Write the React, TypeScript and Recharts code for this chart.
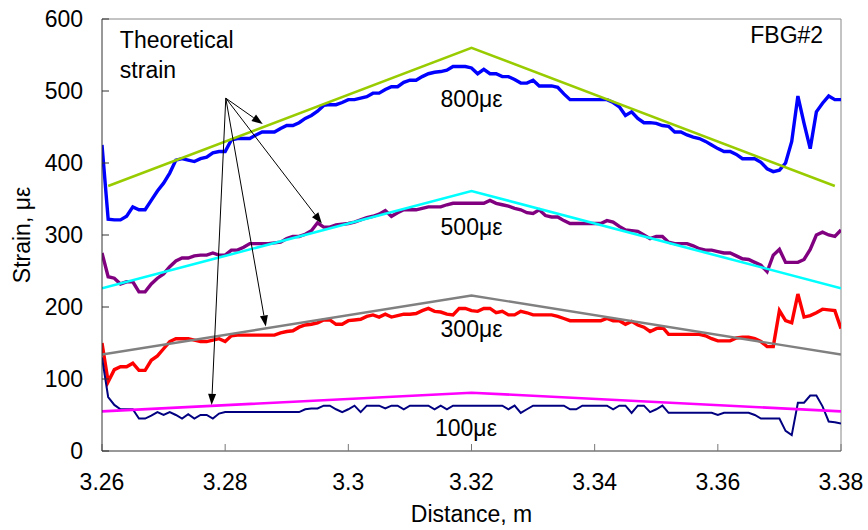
import React from 'react'
import {
  LineChart, Line, XAxis, YAxis, ReferenceLine, ReferenceDot, Label,
} from 'recharts'

const FONT = '"Liberation Sans", Arial, sans-serif'

// sample positions along the fibre, m (0.001 m steps)
const distance = Array.from({ length: 121 }, (_, i) => +(3.26 + i * 0.001).toFixed(3))

// measured strain, με
const measured800 = [
  425, 322, 321, 321, 326, 339, 335, 335, 348, 361,
  372, 386, 404, 406, 404, 402, 406, 408, 414, 416,
  416, 432, 434, 434, 434, 439, 443, 443, 443, 448,
  452, 452, 456, 462, 466, 472, 480, 481, 481, 484,
  488, 488, 490, 492, 497, 497, 502, 506, 506, 512,
  515, 515, 520, 524, 526, 527, 529, 534, 534, 534,
  532, 524, 530, 524, 524, 520, 520, 516, 511, 511,
  515, 507, 507, 507, 505, 496, 488, 488, 488, 488,
  488, 488, 488, 484, 478, 466, 471, 462, 456, 456,
  455, 452, 451, 443, 443, 439, 436, 434, 430, 425,
  420, 416, 416, 412, 406, 406, 406, 401, 392, 388,
  390, 400, 430, 493, 455, 420, 471, 483, 493, 488,
  488,
]
const measured500 = [
  275, 242, 240, 232, 235, 235, 221, 221, 232, 240,
  246, 256, 264, 268, 268, 271, 272, 272, 275, 272,
  272, 279, 279, 283, 288, 288, 288, 288, 289, 290,
  295, 298, 298, 301, 306, 317, 311, 311, 314, 315,
  316, 318, 321, 324, 326, 329, 334, 326, 331, 335,
  335, 335, 337, 339, 339, 339, 342, 344, 344, 344,
  344, 344, 344, 348, 344, 342, 340, 337, 335, 331,
  330, 335, 327, 325, 325, 320, 316, 316, 316, 316,
  316, 316, 320, 318, 312, 307, 306, 305, 300, 295,
  298, 298, 290, 288, 288, 288, 285, 281, 279, 279,
  277, 275, 275, 271, 267, 266, 262, 258, 249, 272,
  280, 262, 262, 262, 266, 280, 300, 304, 300, 298,
  307,
]
const measured300 = [
  150, 96, 113, 117, 117, 122, 112, 112, 126, 132,
  142, 152, 156, 156, 156, 154, 152, 152, 154, 156,
  152, 160, 161, 161, 161, 161, 161, 161, 161, 164,
  166, 167, 172, 175, 176, 178, 182, 182, 176, 176,
  181, 182, 183, 187, 189, 186, 190, 186, 188, 190,
  190, 191, 195, 198, 194, 193, 190, 189, 198, 198,
  195, 194, 198, 198, 192, 194, 189, 189, 194, 192,
  189, 189, 189, 189, 187, 184, 181, 181, 181, 181,
  181, 181, 184, 181, 181, 176, 180, 175, 172, 166,
  170, 172, 162, 162, 162, 162, 162, 162, 160, 156,
  153, 153, 153, 157, 158, 158, 156, 152, 145, 145,
  195, 181, 178, 218, 186, 188, 192, 197, 196, 195,
  170,
]
const measured100 = [
  130, 75, 64, 58, 58, 58, 45, 45, 49, 54,
  50, 54, 50, 45, 51, 45, 50, 50, 45, 52,
  54, 54, 54, 54, 54, 54, 54, 54, 54, 54,
  54, 54, 54, 58, 59, 59, 63, 63, 58, 54,
  58, 63, 54, 63, 63, 63, 59, 63, 63, 58,
  63, 63, 63, 63, 58, 63, 58, 63, 63, 63,
  63, 63, 63, 63, 63, 63, 58, 63, 53, 58,
  63, 63, 63, 63, 63, 63, 58, 58, 63, 63,
  63, 63, 63, 58, 63, 63, 53, 63, 63, 54,
  58, 63, 53, 53, 53, 53, 53, 53, 53, 53,
  50, 53, 53, 53, 53, 53, 50, 45, 45, 45,
  45, 28, 22, 67, 67, 77, 77, 62, 41, 40,
  38,
]

// theoretical strain: ends and peak
const theoryX = [3.26, 3.32, 3.38]
const theoryX800 = [3.261, 3.32, 3.379]
const theory800 = [368, 560, 368]
const theory500 = [226, 361, 226]
const theory300 = [134, 216, 134]
const theory100 = [55, 81, 55]

const xTicks = [3.26, 3.28, 3.3, 3.32, 3.34, 3.36, 3.38]
const yTicks = [0, 100, 200, 300, 400, 500, 600]

// annotation arrows: common origin and the four tips
const arrowFrom = { x: 3.2801, y: 490 }
const arrowTips = [
  { x: 3.2861, y: 454 },
  { x: 3.2957, y: 316 },
  { x: 3.2866, y: 173 },
  { x: 3.2778, y: 64 },
]

const levelLabels = [
  { x: 3.32, y: 478, text: '800με' },
  { x: 3.32, y: 300, text: '500με' },
  { x: 3.32, y: 158, text: '300με' },
  { x: 3.3191, y: 21, text: '100με' },
]

const rows = distance.map((d, i) => ({
  d,
  m800: measured800[i],
  m500: measured500[i],
  m300: measured300[i],
  m100: measured100[i],
}))

const toPts = (xs: number[], ys: number[]) => xs.map((d, i) => ({ d, v: ys[i] }))

const Arrow = (p: any) => {
  const { x1, y1, x2, y2 } = p
  const a = Math.atan2(y2 - y1, x2 - x1)
  const len = 11
  const w = 4
  const bx = x2 - len * Math.cos(a)
  const by = y2 - len * Math.sin(a)
  const px = -Math.sin(a) * w
  const py = Math.cos(a) * w
  return (
    <g>
      <line x1={x1} y1={y1} x2={bx} y2={by} stroke="#000" strokeWidth={1} />
      <polygon points={`${x2},${y2} ${bx + px},${by + py} ${bx - px},${by - py}`} fill="#000" />
    </g>
  )
}

const textShape = (text: string, anchor: string, second?: string) => (p: any) => (
  <text x={p.cx} y={p.cy} textAnchor={anchor} fontSize={23} fontFamily={FONT} fill="#000">
    {text}
    {second ? <tspan x={p.cx} dy={30}>{second}</tspan> : null}
  </text>
)

export default function App() {
  return (
    <div style={{ position: 'absolute', left: 0, top: 0, background: '#fff' }}>
      <LineChart
        width={868}
        height={530}
        data={rows}
        margin={{ top: 19, right: 27, left: 0, bottom: 0 }}
        style={{ fontFamily: FONT }}
      >
        <XAxis
          dataKey="d"
          type="number"
          domain={[3.26, 3.38]}
          ticks={xTicks}
          tickFormatter={(v: number) => String(+v.toFixed(2))}
          height={79}
          tickSize={-7}
          tickMargin={30}
          stroke="#333"
          tickLine={{ stroke: '#777' }}
          tick={{ fill: '#000', fontSize: 23 }}
          allowDataOverflow
        >
          <Label value="Distance, m" position="insideBottom" offset={8} fill="#000" fontSize={23} />
        </XAxis>
        <YAxis
          type="number"
          domain={[0, 600]}
          ticks={yTicks}
          width={102}
          tickSize={-7}
          tickMargin={26}
          stroke="#333"
          tickLine={{ stroke: '#333' }}
          tick={{ fill: '#000', fontSize: 23 }}
          allowDataOverflow
        >
          <Label
            value="Strain, με"
            angle={-90}
            position="insideLeft"
            offset={22}
            fill="#000"
            fontSize={23}
            style={{ textAnchor: 'middle' }}
          />
        </YAxis>

        <ReferenceLine y={600} stroke="#888" strokeWidth={1} />
        <ReferenceLine x={3.38} stroke="#888" strokeWidth={1} />

        <Line dataKey="m800" stroke="#0000FF" strokeWidth={3.4} dot={false} isAnimationActive={false} />
        <Line dataKey="m500" stroke="#800080" strokeWidth={3.4} dot={false} isAnimationActive={false} />
        <Line dataKey="m300" stroke="#FF0000" strokeWidth={3.4} dot={false} isAnimationActive={false} />
        <Line dataKey="m100" stroke="#000080" strokeWidth={2} dot={false} isAnimationActive={false} />

        <Line data={toPts(theoryX800, theory800)} dataKey="v" stroke="#99CC00" strokeWidth={2.6} dot={false} isAnimationActive={false} />
        <Line data={toPts(theoryX, theory500)} dataKey="v" stroke="#00FFFF" strokeWidth={2.6} dot={false} isAnimationActive={false} />
        <Line data={toPts(theoryX, theory300)} dataKey="v" stroke="#808080" strokeWidth={2.4} dot={false} isAnimationActive={false} />
        <Line data={toPts(theoryX, theory100)} dataKey="v" stroke="#FF00FF" strokeWidth={2.6} dot={false} isAnimationActive={false} />

        {arrowTips.map((t, i) => (
          <ReferenceLine key={i} segment={[arrowFrom, t]} shape={Arrow} ifOverflow="visible" />
        ))}

        {levelLabels.map((l) => (
          <ReferenceDot key={l.text} x={l.x} y={l.y} r={0} shape={textShape(l.text, 'middle')} ifOverflow="visible" />
        ))}
        <ReferenceDot x={3.2629} y={560} r={0} shape={textShape('Theoretical', 'start', 'strain')} ifOverflow="visible" />
        <ReferenceDot x={3.3771} y={567} r={0} shape={textShape('FBG#2', 'end')} ifOverflow="visible" />
      </LineChart>
    </div>
  )
}
